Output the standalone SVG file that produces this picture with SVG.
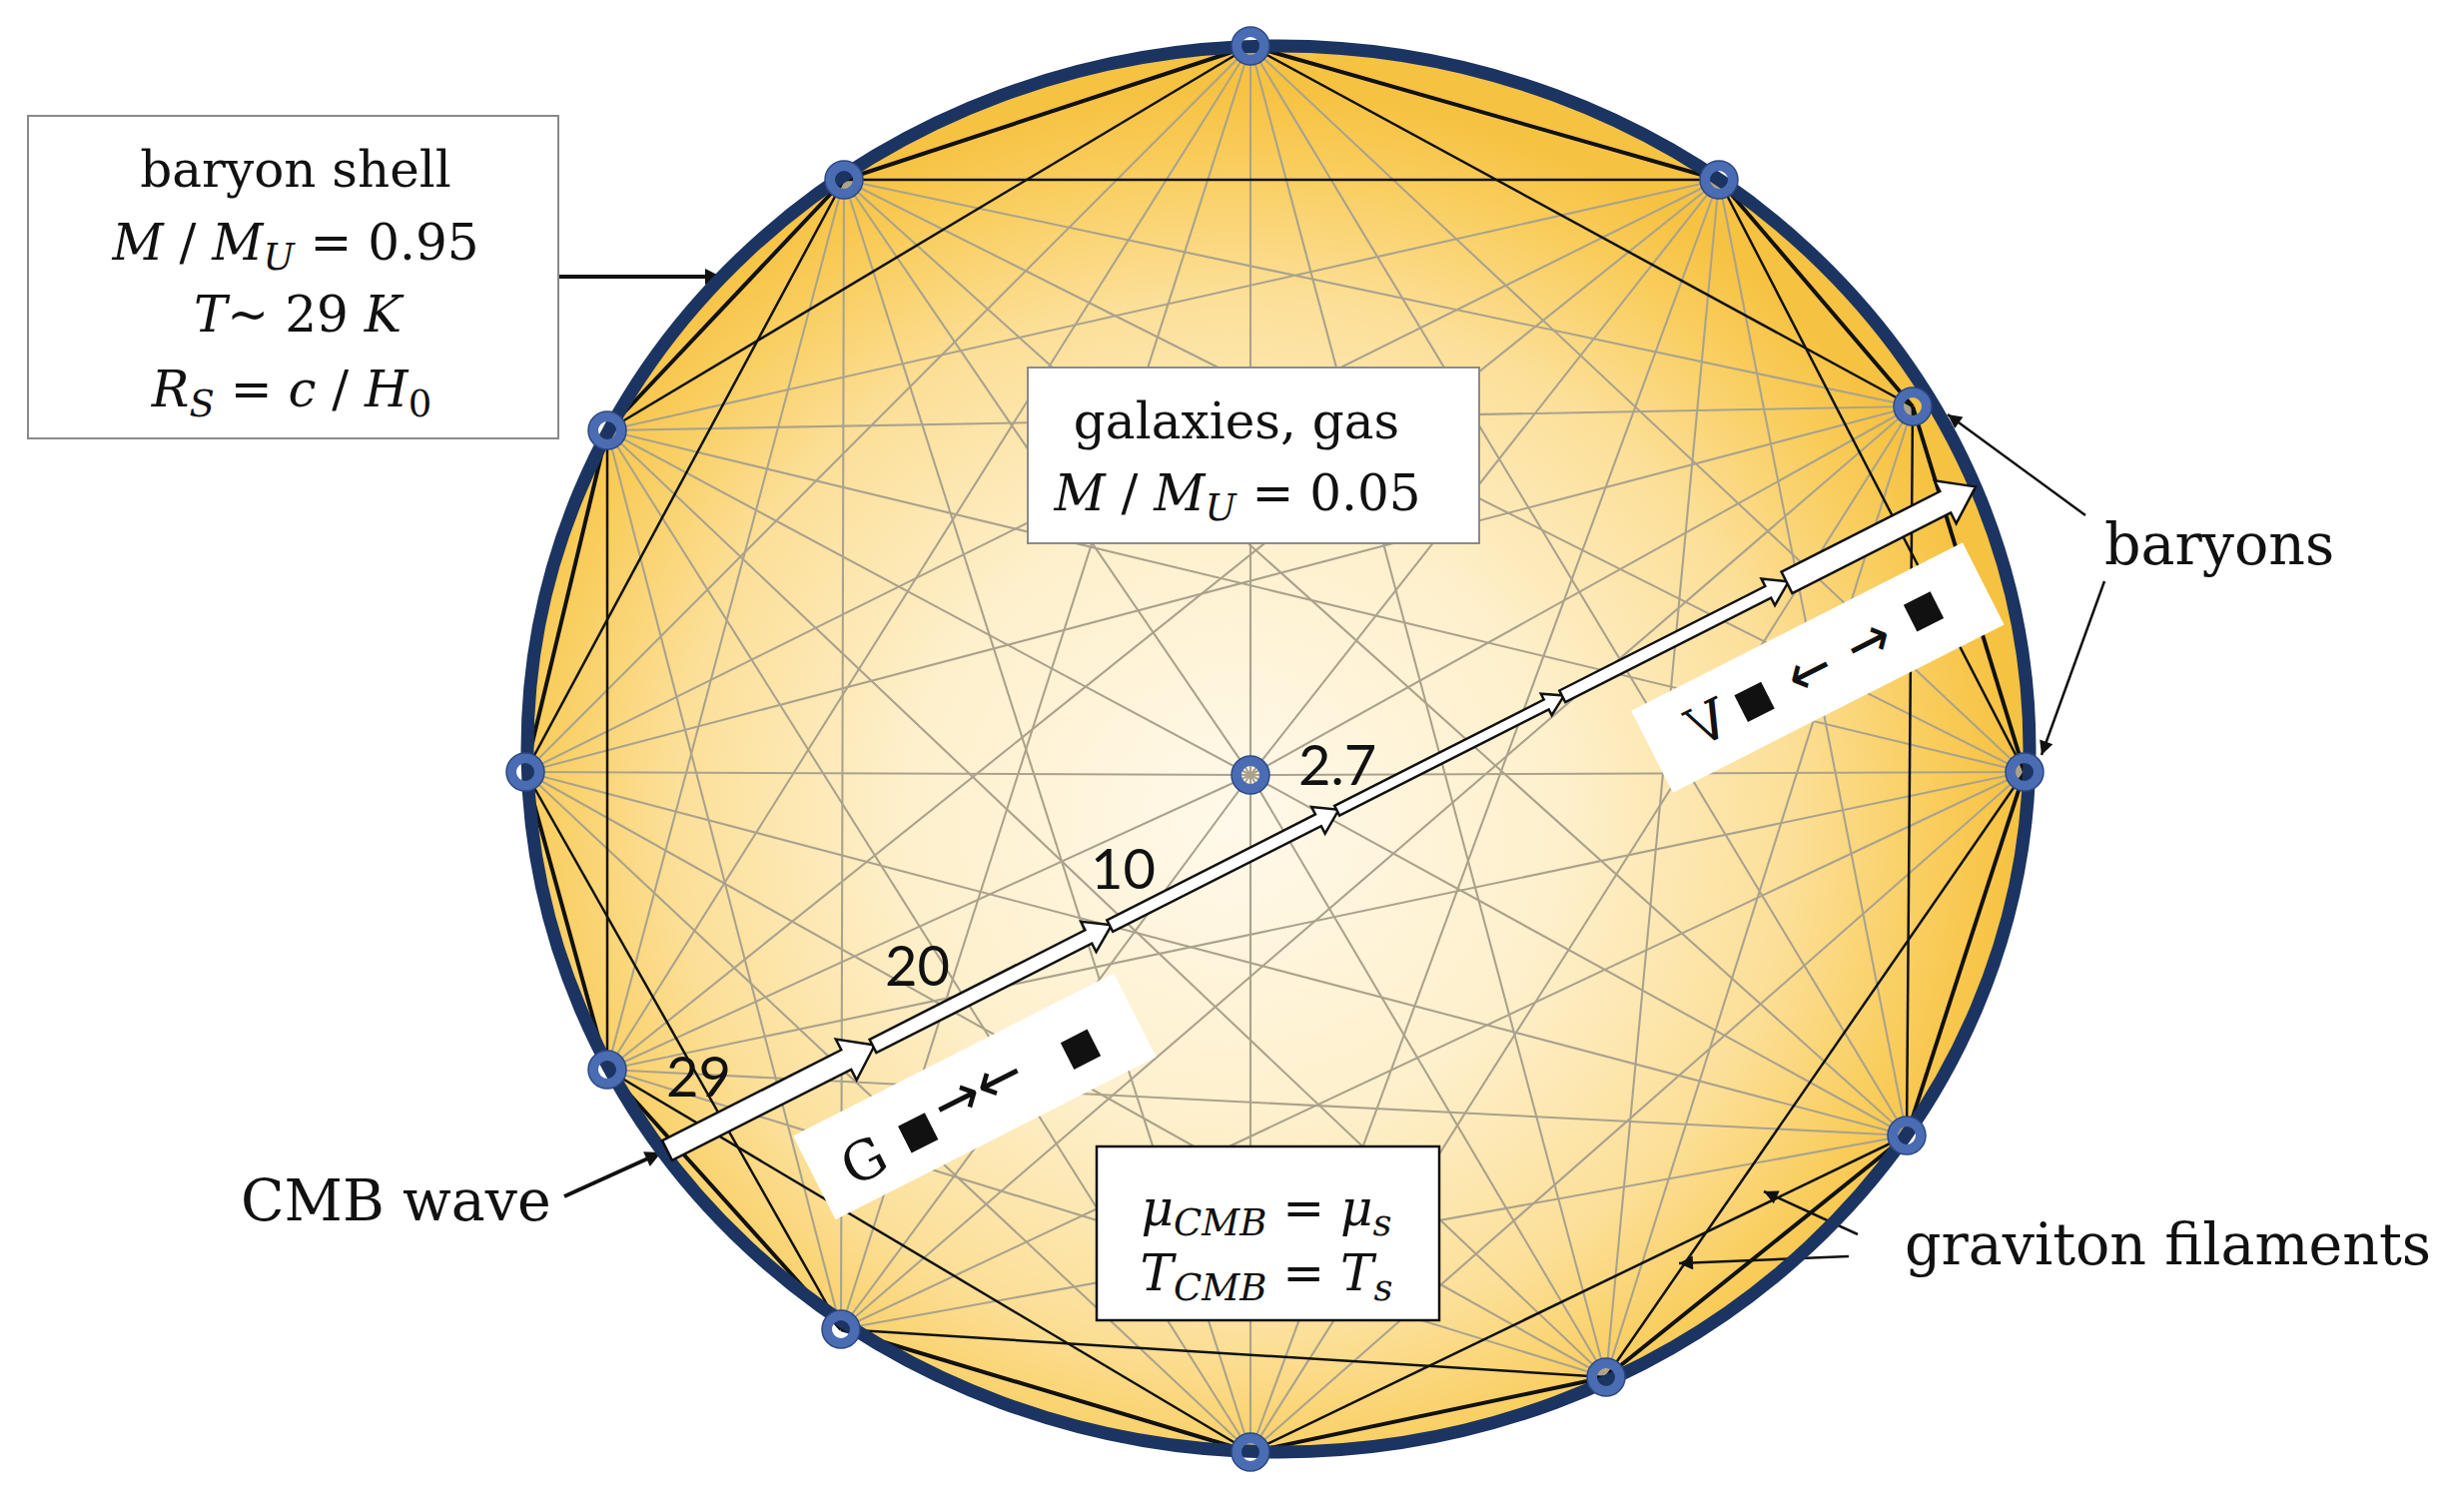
<svg xmlns="http://www.w3.org/2000/svg" width="2465" height="1514" viewBox="0 0 2465 1514">
<defs>
<radialGradient id="sun" cx="0.47" cy="0.55" r="0.52">
<stop offset="0" stop-color="#fff9ea"/>
<stop offset="0.42" stop-color="#fef0cc"/>
<stop offset="0.72" stop-color="#fcdf97"/>
<stop offset="0.9" stop-color="#f9cd5c"/>
<stop offset="1" stop-color="#f6c242"/>
</radialGradient>
<marker id="ah" viewBox="0 0 10 10" refX="10" refY="5" markerWidth="24" markerHeight="16" markerUnits="userSpaceOnUse" orient="auto">
<path d="M0,0 L10,5 L0,10 z" fill="#111"/>
</marker>
<marker id="ahs" viewBox="0 0 10 10" refX="10" refY="5" markerWidth="22" markerHeight="14" markerUnits="userSpaceOnUse" orient="auto">
<path d="M0,0 L10,5 L0,10 z" fill="#111"/>
</marker>
</defs>
<style>
.t{font-family:"DejaVu Serif","Liberation Serif",serif;fill:#111}
.lab{font-size:57px}
.bx{font-size:50px}
.i{font-style:italic}
.num{font-family:Lato,"Open Sans",sans-serif;font-size:56px;fill:#111}
.g{stroke:#aaa28c;stroke-width:2.1}
.k1{stroke:#111;stroke-width:4}
.k2{stroke:#111;stroke-width:2.5}
.nd{fill:none;stroke:#4a6cb2;stroke-width:10}
.ndo{fill:none;stroke:#2c4884;stroke-width:1.5}
.box{fill:#fff;stroke:#8a8a8a;stroke-width:2}
.ptr{stroke:#111;fill:none}
.seg{fill:#fff;stroke:#111;stroke-width:2.5;stroke-linejoin:miter}
.arr{font-family:"DejaVu Sans","DejaVu Serif",sans-serif;fill:#111}
</style>
<rect width="2465" height="1514" fill="#fff"/>

<g id="sphere">
<ellipse cx="1280" cy="750" rx="752" ry="704" fill="url(#sun)"/>
</g>

<g id="connectors">
<!-- gray chords d=3 -->
<line class="g" x1="1252" y1="46" x2="2027" y2="773"/>
<line class="g" x1="1721" y1="180" x2="1909" y2="1137"/>
<line class="g" x1="1915" y1="407" x2="1608" y2="1379"/>
<line class="g" x1="2027" y1="773" x2="1252" y2="1454"/>
<line class="g" x1="1909" y1="1137" x2="842" y2="1331"/>
<line class="g" x1="1608" y1="1379" x2="608" y2="1071"/>
<line class="g" x1="1252" y1="1454" x2="526" y2="773"/>
<line class="g" x1="842" y1="1331" x2="608" y2="431"/>
<line class="g" x1="608" y1="1071" x2="845" y2="180"/>
<line class="g" x1="526" y1="773" x2="1252" y2="46"/>
<line class="g" x1="608" y1="431" x2="1721" y2="180"/>
<line class="g" x1="845" y1="180" x2="1915" y2="407"/>
<!-- d=4 -->
<line class="g" x1="1252" y1="46" x2="1909" y2="1137"/>
<line class="g" x1="1721" y1="180" x2="1608" y2="1379"/>
<line class="g" x1="1915" y1="407" x2="1252" y2="1454"/>
<line class="g" x1="2027" y1="773" x2="842" y2="1331"/>
<line class="g" x1="1909" y1="1137" x2="608" y2="1071"/>
<line class="g" x1="1608" y1="1379" x2="526" y2="773"/>
<line class="g" x1="1252" y1="1454" x2="608" y2="431"/>
<line class="g" x1="842" y1="1331" x2="845" y2="180"/>
<line class="g" x1="608" y1="1071" x2="1252" y2="46"/>
<line class="g" x1="526" y1="773" x2="1721" y2="180"/>
<line class="g" x1="608" y1="431" x2="1915" y2="407"/>
<line class="g" x1="845" y1="180" x2="2027" y2="773"/>
<!-- d=5 -->
<line class="g" x1="1252" y1="46" x2="1608" y2="1379"/>
<line class="g" x1="1721" y1="180" x2="1252" y2="1454"/>
<line class="g" x1="1915" y1="407" x2="842" y2="1331"/>
<line class="g" x1="2027" y1="773" x2="608" y2="1071"/>
<line class="g" x1="1909" y1="1137" x2="526" y2="773"/>
<line class="g" x1="1608" y1="1379" x2="608" y2="431"/>
<line class="g" x1="1252" y1="1454" x2="845" y2="180"/>
<line class="g" x1="842" y1="1331" x2="1252" y2="46"/>
<line class="g" x1="608" y1="1071" x2="1721" y2="180"/>
<line class="g" x1="526" y1="773" x2="1915" y2="407"/>
<line class="g" x1="608" y1="431" x2="2027" y2="773"/>
<line class="g" x1="845" y1="180" x2="1909" y2="1137"/>
<!-- spokes to centre -->
<line class="g" x1="1252" y1="776" x2="1252" y2="46"/>
<line class="g" x1="1252" y1="776" x2="1721" y2="180"/>
<line class="g" x1="1252" y1="776" x2="1915" y2="407"/>
<line class="g" x1="1252" y1="776" x2="2027" y2="773"/>
<line class="g" x1="1252" y1="776" x2="1909" y2="1137"/>
<line class="g" x1="1252" y1="776" x2="1608" y2="1379"/>
<line class="g" x1="1252" y1="776" x2="1252" y2="1454"/>
<line class="g" x1="1252" y1="776" x2="842" y2="1331"/>
<line class="g" x1="1252" y1="776" x2="608" y2="1071"/>
<line class="g" x1="1252" y1="776" x2="526" y2="773"/>
<line class="g" x1="1252" y1="776" x2="608" y2="431"/>
<line class="g" x1="1252" y1="776" x2="845" y2="180"/>
<!-- black d=2 -->
<line class="k2" x1="1252" y1="46" x2="1915" y2="407"/>
<line class="k2" x1="1721" y1="180" x2="2027" y2="773"/>
<line class="k2" x1="1915" y1="407" x2="1909" y2="1137"/>
<line class="k2" x1="2027" y1="773" x2="1608" y2="1379"/>
<line class="k2" x1="1909" y1="1137" x2="1252" y2="1454"/>
<line class="k2" x1="1608" y1="1379" x2="842" y2="1331"/>
<line class="k2" x1="1252" y1="1454" x2="608" y2="1071"/>
<line class="k2" x1="842" y1="1331" x2="526" y2="773"/>
<line class="k2" x1="608" y1="1071" x2="608" y2="431"/>
<line class="k2" x1="526" y1="773" x2="845" y2="180"/>
<line class="k2" x1="608" y1="431" x2="1252" y2="46"/>
<line class="k2" x1="845" y1="180" x2="1721" y2="180"/>
<!-- black d=1 -->
<line class="k1" x1="1252" y1="46" x2="1721" y2="180"/>
<line class="k1" x1="1721" y1="180" x2="1915" y2="407"/>
<line class="k1" x1="1915" y1="407" x2="2027" y2="773"/>
<line class="k1" x1="2027" y1="773" x2="1909" y2="1137"/>
<line class="k1" x1="1909" y1="1137" x2="1608" y2="1379"/>
<line class="k1" x1="1608" y1="1379" x2="1252" y2="1454"/>
<line class="k1" x1="1252" y1="1454" x2="842" y2="1331"/>
<line class="k1" x1="842" y1="1331" x2="608" y2="1071"/>
<line class="k1" x1="608" y1="1071" x2="526" y2="773"/>
<line class="k1" x1="526" y1="773" x2="608" y2="431"/>
<line class="k1" x1="608" y1="431" x2="845" y2="180"/>
<line class="k1" x1="845" y1="180" x2="1252" y2="46"/>
<!-- label pointers -->
<line class="ptr" stroke-width="4" x1="559" y1="277" x2="722" y2="277" marker-end="url(#ah)"/>
<line class="ptr" stroke-width="2.5" x1="2088" y1="516" x2="1950" y2="415" marker-end="url(#ahs)"/>
<line class="ptr" stroke-width="2.5" x1="2107" y1="582" x2="2044" y2="756" marker-end="url(#ahs)"/>
<line class="ptr" stroke-width="2.5" x1="1860" y1="1236" x2="1766" y2="1193" marker-end="url(#ahs)"/>
<line class="ptr" stroke-width="2.5" x1="1851" y1="1258" x2="1681" y2="1265" marker-end="url(#ahs)"/>
<line class="ptr" stroke-width="4" x1="565" y1="1198" x2="662" y2="1154" marker-end="url(#ah)"/>
</g>

<g id="shell-outline">
<ellipse cx="1280" cy="750" rx="752" ry="704" fill="none" stroke="#1c3461" stroke-width="13"/>
</g>

<g id="nodes">
<g id="n0"><circle class="nd" cx="1252" cy="46" r="14"/><circle class="ndo" cx="1252" cy="46" r="19"/></g>
<g id="n1"><circle class="nd" cx="1721" cy="180" r="14"/><circle class="ndo" cx="1721" cy="180" r="19"/></g>
<g id="n2"><circle class="nd" cx="1915" cy="407" r="14"/><circle class="ndo" cx="1915" cy="407" r="19"/></g>
<g id="n3"><circle class="nd" cx="2027" cy="773" r="14"/><circle class="ndo" cx="2027" cy="773" r="19"/></g>
<g id="n4"><circle class="nd" cx="1909" cy="1137" r="14"/><circle class="ndo" cx="1909" cy="1137" r="19"/></g>
<g id="n5"><circle class="nd" cx="1608" cy="1379" r="14"/><circle class="ndo" cx="1608" cy="1379" r="19"/></g>
<g id="n6"><circle class="nd" cx="1252" cy="1454" r="14"/><circle class="ndo" cx="1252" cy="1454" r="19"/></g>
<g id="n7"><circle class="nd" cx="842" cy="1331" r="14"/><circle class="ndo" cx="842" cy="1331" r="19"/></g>
<g id="n8"><circle class="nd" cx="608" cy="1071" r="14"/><circle class="ndo" cx="608" cy="1071" r="19"/></g>
<g id="n9"><circle class="nd" cx="526" cy="773" r="14"/><circle class="ndo" cx="526" cy="773" r="19"/></g>
<g id="n10"><circle class="nd" cx="608" cy="431" r="14"/><circle class="ndo" cx="608" cy="431" r="19"/></g>
<g id="n11"><circle class="nd" cx="845" cy="180" r="14"/><circle class="ndo" cx="845" cy="180" r="19"/></g>
<g id="center"><circle class="nd" cx="1252" cy="776" r="14"/><circle class="ndo" cx="1252" cy="776" r="19"/></g>
</g>

<g id="cmb-wave" transform="translate(668,1152) rotate(-26.9)">
<polygon class="seg" points="0,-11 201,-11 201,-23 233,0 201,23 201,11 0,11"/>
<polygon class="seg" points="231,-7.5 473,-7.5 473,-17 499,0 473,17 473,7.5 231,7.5"/>
<polygon class="seg" points="497,-6.5 731,-6.5 731,-15 754,0 731,15 731,6.5 497,6.5"/>
<polygon class="seg" points="752,-5.5 987,-5.5 987,-12 1007,0 987,12 987,5.5 752,5.5"/>
<polygon class="seg" points="1005,-6.5 1236,-6.5 1236,-15 1259,0 1236,15 1236,6.5 1005,6.5"/>
<polygon class="seg" points="1257,-12 1435,-12 1435,-24 1469,0 1435,24 1435,12 1257,12"/>
<g id="g-box">
<rect x="119" y="44" width="360" height="94" fill="#fff"/>
<text class="t" x="171" y="117" font-size="54" text-anchor="middle">G</text>
<rect x="217" y="83" width="30" height="30" fill="#111"/>
<text class="arr" x="258" y="106" font-size="60" textLength="94" lengthAdjust="spacingAndGlyphs">→←</text>
<rect x="400" y="82" width="30" height="30" fill="#111"/>
</g>
<g id="lambda-box">
<rect x="1060" y="44" width="372" height="92" fill="#fff"/>
<rect x="1159" y="77" width="30" height="30" fill="#111"/>
<rect x="1351" y="73" width="30" height="30" fill="#111"/>
<g transform="translate(0,180) scale(1,-1)">
<text class="t" x="1123" y="111" font-size="54" text-anchor="middle">Λ</text>
<text class="arr" x="1215" y="108" font-size="60" textLength="44" lengthAdjust="spacingAndGlyphs">←</text>
<text class="arr" x="1281" y="108" font-size="60" textLength="44" lengthAdjust="spacingAndGlyphs">→</text>
</g>
</g>
</g>

<g id="temps">
<text class="num" x="667" y="1098">29</text>
<text class="num" x="886" y="987">20</text>
<text class="num" x="1092" y="890">10</text>
<text class="num" x="1300" y="786">2.7</text>
</g>

<g id="shell-box">
<rect class="box" x="28" y="116" width="531" height="323"/>
<text class="t bx" x="296" y="187" text-anchor="middle">baryon shell</text>
<text class="t bx" x="296" y="260" text-anchor="middle"><tspan class="i">M</tspan> / <tspan class="i">M</tspan><tspan class="i" font-size="37" dy="10">U</tspan><tspan dy="-10"> = 0.95</tspan></text>
<text class="t bx" x="298" y="332" text-anchor="middle"><tspan class="i">T</tspan>~ 29 <tspan class="i">K</tspan></text>
<text class="t bx" x="292" y="407" text-anchor="middle"><tspan class="i">R</tspan><tspan class="i" font-size="37" dy="10">S</tspan><tspan dy="-10"> = </tspan><tspan class="i">c</tspan> / <tspan class="i">H</tspan><tspan font-size="37" dy="10">0</tspan></text>
</g>

<g id="galaxies-box">
<rect class="box" x="1029" y="368" width="452" height="176"/>
<text class="t bx" x="1238" y="439" text-anchor="middle">galaxies, gas</text>
<text class="t bx" x="1239" y="511" text-anchor="middle"><tspan class="i">M</tspan> / <tspan class="i">M</tspan><tspan class="i" font-size="37" dy="10">U</tspan><tspan dy="-10"> = 0.05</tspan></text>
</g>

<g id="mu-box">
<rect x="1098" y="1148" width="343" height="174" fill="#fff" stroke="#111" stroke-width="2.5"/>
<text class="t bx" x="1268" y="1227" text-anchor="middle"><tspan class="i">μ</tspan><tspan class="i" font-size="37" dy="10">CMB</tspan><tspan dy="-10"> = </tspan><tspan class="i">μ</tspan><tspan class="i" font-size="37" dy="10">s</tspan></text>
<text class="t bx" x="1268" y="1292" text-anchor="middle"><tspan class="i">T</tspan><tspan class="i" font-size="37" dy="10">CMB</tspan><tspan dy="-10"> = </tspan><tspan class="i">T</tspan><tspan class="i" font-size="37" dy="10">s</tspan></text>
</g>

<g id="labels">
<text class="t lab" x="2107" y="565">baryons</text>
<text class="t lab" x="1907" y="1266">graviton filaments</text>
<text class="t lab" x="241" y="1222">CMB wave</text>
</g>
</svg>
